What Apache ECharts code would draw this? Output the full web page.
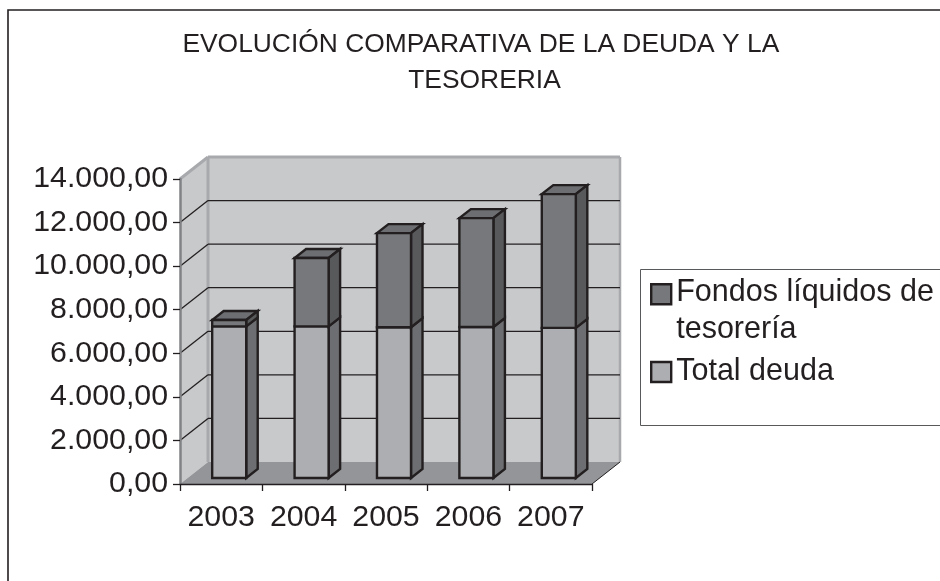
<!DOCTYPE html>
<html><head><meta charset="utf-8">
<style>html,body{margin:0;padding:0;background:#fff}#c{width:940px;height:581px}</style>
<script src="https://cdn.jsdelivr.net/npm/echarts@6/dist/echarts.min.js"></script>
</head><body><div id="c"></div>
<script>
const titleText = 'EVOLUCIÓN COMPARATIVA DE LA DEUDA Y LA \nTESORERIA';
const categories = ['2003','2004','2005','2006','2007'];
const totalDeuda = [6960,6960,6920,6930,6890];
const fondos = [290,3140,4320,5000,6140];
const yTicks = [0,2000,4000,6000,8000,10000,12000,14000];
const nameFondos = 'Fondos líquidos de\ntesorería';
const nameDeuda = 'Total deuda';

const INK='#231f20', FONT='"Liberation Sans",Arial,sans-serif';
const WALL_DX=28, WALL_DY=-22, BAR_OX=8, BAR_OY=-6, BAR_DX=11.5, BAR_DY=-9, BAR_FRAC=0.413;

function fmt(v){
  const s=String(Math.round(v)).replace(/\B(?=(\d{3})+$)/g,'.');
  return s+',00';
}
function poly(points,fill,stroke,lw){
  return {type:'polygon',shape:{points},style:{fill,stroke:stroke||null,lineWidth:lw||0,lineJoin:'miter'}};
}
function line(x1,y1,x2,y2,stroke,lw){
  return {type:'line',shape:{x1,y1,x2,y2},style:{stroke,lineWidth:lw}};
}
function renderWalls(params,api){
  const c=params.coordSys, L=c.x, R=c.x+c.width, T=c.y, B=c.y+c.height;
  return {type:'group',children:[
    poly([[L+WALL_DX,T+WALL_DY],[R+WALL_DX,T+WALL_DY],[R+WALL_DX,B+WALL_DY],[L+WALL_DX,B+WALL_DY]],'#c8c9cb'),
    poly([[L,T],[L+WALL_DX,T+WALL_DY],[L+WALL_DX,B+WALL_DY],[L,B]],'#c8c9cb'),
    poly([[L,B],[L+WALL_DX,B+WALL_DY],[R+WALL_DX,B+WALL_DY],[R,B]],'#939598'),
    line(L,T,L+WALL_DX,T+WALL_DY,'#a7a9ac',3),
    line(L+WALL_DX,T+WALL_DY,R+WALL_DX,T+WALL_DY,'#a7a9ac',3),
    line(L+WALL_DX,T+WALL_DY,L+WALL_DX,B+WALL_DY,'#a7a9ac',3),
    line(R+WALL_DX,T+WALL_DY,R+WALL_DX,B+WALL_DY,'#a7a9ac',2.5),
    line(R,B,R+WALL_DX,B+WALL_DY,INK,1)
  ]};
}
function renderGrid(params,api){
  const c=params.coordSys, L=c.x, R=c.x+c.width, v=api.value(0);
  if(v===yTicks[0]||v===yTicks[yTicks.length-1]) return {type:'group',children:[]};
  const y=api.coord([0,v])[1];
  return {type:'group',children:[
    line(L,y,L+WALL_DX,y+WALL_DY,INK,1.3),
    line(L+WALL_DX,y+WALL_DY,R+WALL_DX,y+WALL_DY,INK,1.3)
  ]};
}
function barRenderer(frontCol,sideCol,withTop){
  return function(params,api){
    const i=api.value(0), p0=api.coord([i,api.value(1)]), p1=api.coord([i,api.value(2)]);
    const w=api.size([1,0])[0]*BAR_FRAC;
    const x0=p0[0]-w/2+BAR_OX, x1=x0+w, yb=p0[1]+BAR_OY, yt=p1[1]+BAR_OY;
    const kids=[
      poly([[x1,yb],[x1+BAR_DX,yb+BAR_DY],[x1+BAR_DX,yt+BAR_DY],[x1,yt]],sideCol,INK,2.4),
      poly([[x0,yb],[x1,yb],[x1,yt],[x0,yt]],frontCol,INK,2.4)
    ];
    if(withTop) kids.unshift(poly([[x0,yt],[x1,yt],[x1+BAR_DX,yt+BAR_DY],[x0+BAR_DX,yt+BAR_DY]],'#6d6e71',INK,2.4));
    return {type:'group',children:kids};
  };
}
const deudaData=categories.map((c,i)=>[i,0,totalDeuda[i]]);
const fondosData=categories.map((c,i)=>[i,totalDeuda[i],totalDeuda[i]+fondos[i]]);
const legendText={fontFamily:FONT,fontSize:30.5,color:INK,lineHeight:37};
const chart=echarts.init(document.getElementById('c'),null,{renderer:'canvas'});
chart.setOption({
  animation:false,
  backgroundColor:'#fff',
  title:{text:titleText,left:479.5,top:22,textAlign:'center',
    textStyle:{fontFamily:FONT,fontSize:26.4,fontWeight:'normal',color:INK,lineHeight:36}},
  grid:{left:180,right:348,top:179,bottom:97,containLabel:false},
  graphic:[
    {type:'rect',z:0,shape:{x:8,y:10,width:960,height:600},style:{fill:'none',stroke:INK,lineWidth:1.6}},
    {type:'rect',z:0,shape:{x:640.5,y:269.5,width:320,height:156},style:{fill:'#fff',stroke:'#58595b',lineWidth:1}}
  ],
  legend:[
    {data:[nameFondos],left:650,top:272.5,padding:0,itemWidth:20,itemHeight:74,itemGap:0,
     icon:'path://M0 0L0 0M0 10.5H20V30.5H0ZM0 74L0 74',textStyle:legendText,
     itemStyle:{borderColor:INK,borderWidth:2.4}},
    {data:[nameDeuda],left:650,top:353.5,padding:0,itemWidth:20,itemHeight:20,
     icon:'rect',textStyle:legendText,itemStyle:{borderColor:INK,borderWidth:2.4}}
  ],
  xAxis:{type:'category',data:categories,boundaryGap:true,z:5,
    axisLine:{lineStyle:{color:INK,width:1.3}},
    axisTick:{show:true,length:7,lineStyle:{color:INK,width:1.3}},
    axisLabel:{fontFamily:FONT,fontSize:30.3,color:INK,margin:19,interval:0,hideOverlap:false},splitLine:{show:false}},
  yAxis:{type:'value',min:0,max:14000,interval:2000,z:5,
    axisLine:{show:true,lineStyle:{color:'#808285',width:2.5}},
    axisTick:{show:true,length:7,lineStyle:{color:INK,width:1.3}},
    axisLabel:{fontFamily:FONT,fontSize:30.3,color:INK,margin:12,formatter:fmt},splitLine:{show:false}},
  series:[
    {type:'custom',name:'paredes',z:1,silent:true,renderItem:renderWalls,data:[[0]],encode:{x:0,y:0}},
    {type:'custom',name:'rejilla',z:1,silent:true,renderItem:renderGrid,data:yTicks.map(v=>[v]),encode:{y:0}},
    {type:'custom',name:nameDeuda,z:2,renderItem:barRenderer('#adaeb1','#6d6e71',false),
      itemStyle:{color:'#adaeb1'},data:deudaData,encode:{x:0,y:[1,2]}},
    {type:'custom',name:nameFondos,z:3,renderItem:barRenderer('#77787b','#58595b',true),
      itemStyle:{color:'#77787b'},data:fondosData,encode:{x:0,y:[1,2]}}
  ]
});
</script></body></html>
